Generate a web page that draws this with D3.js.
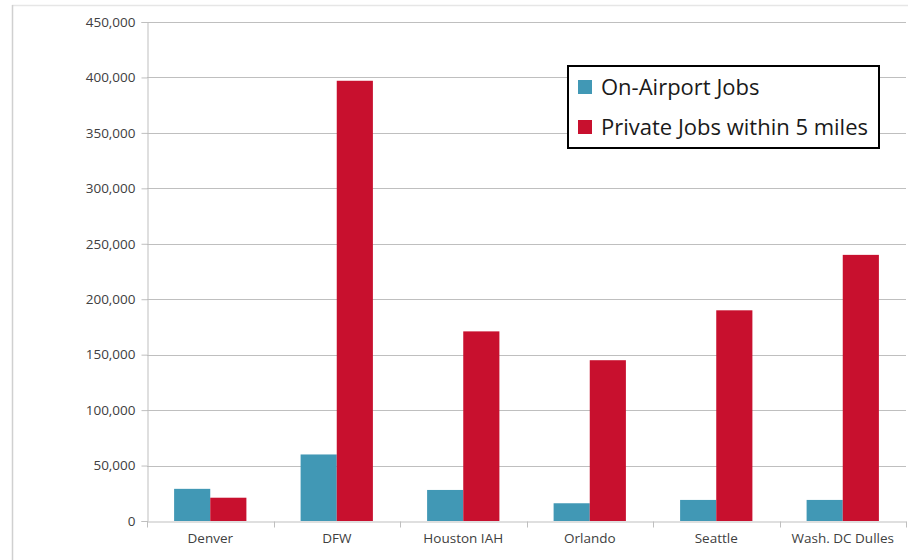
<!DOCTYPE html>
<html>
<head>
<meta charset="utf-8">
<script src="https://cdn.jsdelivr.net/npm/d3@7"></script>
<style>
  body { margin: 0; background: #fff; }
  svg { display: block; }
</style>
</head>
<body>
<script>
const width = 908;
const height = 560;
const airports = ['Denver', 'DFW', 'Houston IAH', 'Orlando', 'Seattle', 'Wash. DC Dulles'];
const seriesNames = ['On-Airport Jobs', 'Private Jobs within 5 miles'];
const onAirport = [29000, 60000, 28000, 16000, 19000, 19000];
const privateJobs = [21000, 397000, 171000, 145000, 190000, 240000];
const yTicks = [0, 50000, 100000, 150000, 200000, 250000, 300000, 350000, 400000, 450000];
const colors = ['#4198B5', '#C8102E'];
const font = "'Open Sans', sans-serif";

const margin = {left: 147, right: 2, top: 22, bottom: 39};

const svg = d3.select('body').append('svg')
  .attr('width', width)
  .attr('height', height)
  .attr('font-family', font);

// outer frame
svg.append('line').attr('x1', 12).attr('x2', width).attr('y1', 5.5).attr('y2', 5.5)
  .attr('stroke', '#e6e6e6').attr('stroke-width', 1.5);
svg.append('line').attr('x1', 12.5).attr('x2', 12.5).attr('y1', 5).attr('y2', height)
  .attr('stroke', '#d0d0d0').attr('stroke-width', 1.5);

const x = d3.scaleBand().domain(airports)
  .range([margin.left, width - margin.right]);
const x1 = d3.scaleBand().domain(seriesNames)
  .range([0, x.bandwidth()]).paddingInner(0).paddingOuter(0.75);
const y = d3.scaleLinear().domain([0, 450000])
  .range([height - margin.bottom, margin.top]);

// gridlines
svg.append('g').selectAll('line').data(yTicks.slice(1)).enter().append('line')
  .attr('x1', margin.left).attr('x2', width - margin.right)
  .attr('y1', d => Math.round(y(d)) + 0.5).attr('y2', d => Math.round(y(d)) + 0.5)
  .attr('stroke', '#bfbfbf');

const yAxis = svg.append('g')
  .attr('transform', `translate(${margin.left + 0.5},0)`)
  .call(d3.axisLeft(y).tickValues(yTicks).tickFormat(d3.format(',')).tickSize(6).tickPadding(6))
  .attr('font-family', font).attr('font-size', 13.5);
yAxis.select('.domain').attr('stroke', '#bfbfbf');
yAxis.selectAll('.tick line').attr('stroke', '#bfbfbf');
yAxis.selectAll('.tick text').attr('fill', '#404040');

const data = airports.map((a, i) => ({airport: a, values: [onAirport[i], privateJobs[i]]}));

svg.append('g').selectAll('g').data(data).enter().append('g')
  .attr('transform', d => `translate(${x(d.airport)},0)`)
  .selectAll('rect').data(d => d.values.map((v, j) => ({key: seriesNames[j], v: v, j: j})))
  .enter().append('rect')
  .attr('x', d => x1(d.key))
  .attr('width', x1.bandwidth())
  .attr('y', d => y(d.v))
  .attr('height', d => y(0) - y(d.v))
  .attr('fill', d => colors[d.j]);

const xAxis = svg.append('g')
  .attr('transform', `translate(0,${Math.round(y(0)) + 0.5})`)
  .call(d3.axisBottom(x).tickSize(0).tickPadding(12))
  .attr('font-family', font).attr('font-size', 13.5);
xAxis.select('.domain').attr('stroke', '#bfbfbf');
xAxis.selectAll('.tick text').attr('fill', '#404040');
// category boundary ticks
xAxis.append('g').selectAll('line').data(airports.concat(['end'])).enter().append('line')
  .attr('x1', (d, i) => Math.round(margin.left + i * x.step()) + 0.5)
  .attr('x2', (d, i) => Math.round(margin.left + i * x.step()) + 0.5)
  .attr('y1', 0).attr('y2', 6)
  .attr('stroke', '#bfbfbf');

// legend
const legend = svg.append('g').attr('transform', 'translate(568,66)');
legend.append('rect').attr('width', 311).attr('height', 82)
  .attr('fill', '#fff').attr('stroke', '#000').attr('stroke-width', 2);
const item = legend.selectAll('g.item').data(seriesNames).enter().append('g')
  .attr('class', 'item')
  .attr('transform', (d, i) => `translate(10,${14 + i * 40})`);
item.append('rect').attr('width', 14).attr('height', 14)
  .attr('fill', (d, i) => colors[i]);
item.append('text').text(d => d)
  .attr('x', 23).attr('y', 15)
  .attr('font-size', 22).attr('fill', '#1a1a1a');
</script>
</body>
</html>
